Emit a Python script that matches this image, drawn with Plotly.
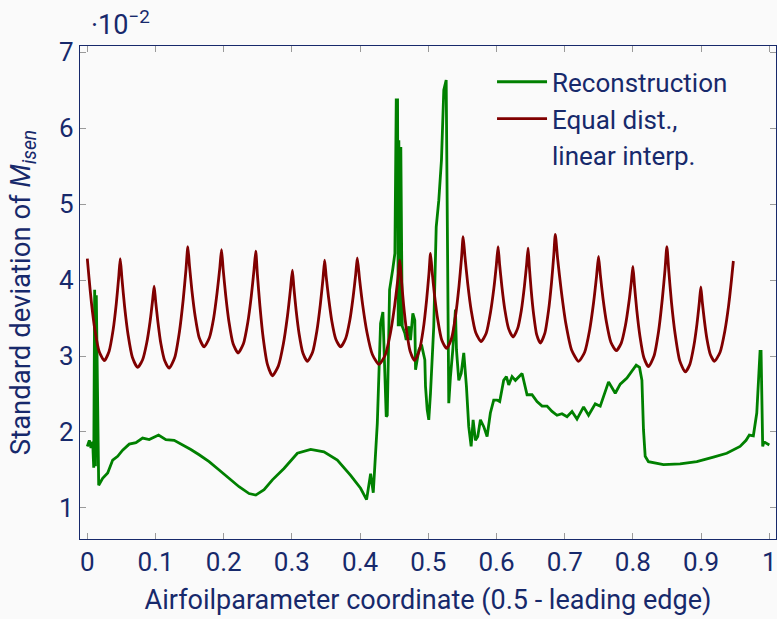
import plotly.graph_objects as go

# Reconstruction (green), values in units of 1e-2
rec_x = [0.0, 0.003, 0.0054, 0.0079, 0.0094, 0.0108, 0.012, 0.0132, 0.0167, 0.0225,
         0.0299, 0.0372, 0.0445, 0.0518, 0.0615, 0.0713, 0.0811, 0.0908, 0.1045, 0.1152,
         0.1274, 0.1397, 0.1518, 0.164, 0.1786, 0.1933, 0.2079, 0.2225, 0.2372, 0.247,
         0.2592, 0.2714, 0.2884, 0.308, 0.3275, 0.347, 0.3666, 0.3861, 0.4007, 0.4095,
         0.4154, 0.4193, 0.4252, 0.43, 0.4334, 0.4359, 0.4383, 0.4398, 0.4432, 0.448,
         0.451, 0.453, 0.4549, 0.4559, 0.4568, 0.4589, 0.4597, 0.4618, 0.4656, 0.4676,
         0.4714, 0.4739, 0.4773, 0.4802, 0.4813, 0.4861, 0.49, 0.4949, 0.4959, 0.4984,
         0.5007, 0.5032, 0.508, 0.5116, 0.5154, 0.5193, 0.5227, 0.5262, 0.5281, 0.53,
         0.5325, 0.5359, 0.5398, 0.5413, 0.5447, 0.5482, 0.552, 0.5559, 0.5593, 0.5628,
         0.5657, 0.5691, 0.5725, 0.5764, 0.5813, 0.5862, 0.591, 0.5959, 0.6009, 0.6047,
         0.6105, 0.6145, 0.6179, 0.6228, 0.6277, 0.632, 0.6375, 0.6448, 0.6521, 0.6594,
         0.6668, 0.6741, 0.6814, 0.6887, 0.696, 0.7034, 0.7107, 0.718, 0.7277, 0.735,
         0.7448, 0.7521, 0.7643, 0.7741, 0.7814, 0.7912, 0.7985, 0.8048, 0.8097, 0.8132,
         0.8155, 0.818, 0.8228, 0.8448, 0.8692, 0.8937, 0.918, 0.9376, 0.9571, 0.9659,
         0.9707, 0.9766, 0.9816, 0.9864, 0.9879, 0.9903, 0.9922, 0.9962, 1.0]
rec_y = [1.81, 1.89, 1.79, 1.87, 1.53, 3.87, 1.55, 3.80, 1.30, 1.39,
         1.46, 1.63, 1.68, 1.76, 1.84, 1.86, 1.92, 1.90, 1.96, 1.90,
         1.89, 1.83, 1.77, 1.70, 1.61, 1.50, 1.39, 1.28, 1.19, 1.17,
         1.24, 1.37, 1.52, 1.72, 1.77, 1.74, 1.63, 1.43, 1.26, 1.11,
         1.45, 1.20, 2.11, 3.43, 3.58, 2.95, 2.20, 2.22, 3.87, 4.15,
         4.35, 6.37, 6.37, 3.39, 5.84, 3.39, 5.75, 3.39, 3.30, 3.21,
         3.39, 3.21, 3.56, 3.47, 2.82, 3.08, 3.15, 2.95, 2.60, 2.29,
         2.16, 2.51, 3.39, 4.70, 5.05, 5.58, 6.50, 6.63, 4.50, 2.38,
         2.73, 3.08, 3.61, 3.08, 2.68, 2.77, 3.04, 2.60, 2.07, 1.81,
         2.16, 1.89, 1.94, 2.16, 2.07, 1.94, 2.25, 2.42, 2.42, 2.40,
         2.68, 2.73, 2.62, 2.73, 2.68, 2.72, 2.77, 2.49, 2.49, 2.40,
         2.34, 2.34, 2.27, 2.22, 2.24, 2.20, 2.27, 2.17, 2.33, 2.22,
         2.37, 2.34, 2.66, 2.51, 2.63, 2.71, 2.81, 2.88, 2.85, 2.68,
         2.03, 1.68, 1.61, 1.57, 1.58, 1.61, 1.67, 1.72, 1.81, 1.89,
         1.96, 1.95, 2.25, 3.06, 3.06, 1.81, 1.87, 1.85, 1.83]

# Equal dist., linear interp. (dark red), read along each scallop
eq_x = [0.0, 0.0025, 0.0062, 0.0112, 0.0174, 0.0249, 0.0319, 0.0378, 0.0425, 0.046,
        0.0483, 0.0509, 0.0547, 0.0598, 0.0662, 0.0738, 0.0811, 0.0871, 0.092, 0.0956,
        0.098, 0.1002, 0.1035, 0.1079, 0.1134, 0.12, 0.1282, 0.1351, 0.1406, 0.1447,
        0.1474, 0.1498, 0.1534, 0.1582, 0.1641, 0.1713, 0.179, 0.1853, 0.1904, 0.1943,
        0.1968, 0.1992, 0.2029, 0.2077, 0.2138, 0.2211, 0.2289, 0.2353, 0.2405, 0.2444,
        0.247, 0.2494, 0.2531, 0.258, 0.2641, 0.2714, 0.2802, 0.2875, 0.2934, 0.2978,
        0.3007, 0.3029, 0.3062, 0.3106, 0.3161, 0.3227, 0.3303, 0.3366, 0.3417, 0.3455,
        0.348, 0.3503, 0.3539, 0.3585, 0.3644, 0.3714, 0.3788, 0.3849, 0.3898, 0.3935,
        0.3959, 0.3991, 0.4038, 0.4101, 0.418, 0.4275, 0.4367, 0.4444, 0.4506, 0.4552,
        0.4583, 0.4605, 0.4637, 0.468, 0.4734, 0.4798, 0.4868, 0.4927, 0.4974, 0.5009,
        0.5032, 0.5056, 0.5091, 0.5138, 0.5197, 0.5267, 0.534, 0.5401, 0.545, 0.5487,
        0.5511, 0.5537, 0.5577, 0.5629, 0.5695, 0.5774, 0.5849, 0.5911, 0.5961, 0.5998,
        0.6023, 0.6045, 0.6078, 0.6122, 0.6177, 0.6243, 0.6309, 0.6364, 0.6408, 0.6441,
        0.6463, 0.6481, 0.6508, 0.6544, 0.6589, 0.6643, 0.6709, 0.6763, 0.6807, 0.684,
        0.6862, 0.6896, 0.6948, 0.7016, 0.7101, 0.7204, 0.7292, 0.7365, 0.7423, 0.7467,
        0.7496, 0.7522, 0.7561, 0.7613, 0.7677, 0.7755, 0.7829, 0.789, 0.7939, 0.7976,
        0.80, 0.8023, 0.8057, 0.8103, 0.816, 0.8228, 0.8309, 0.8377, 0.8431, 0.8471,
        0.8498, 0.8525, 0.8565, 0.8619, 0.8686, 0.8766, 0.8835, 0.8893, 0.8939, 0.8973,
        0.8996, 0.9016, 0.9046, 0.9086, 0.9135, 0.9195, 0.9278, 0.9348, 0.9404, 0.9445,
        0.9473]
eq_y = [4.28, 4.03, 3.69, 3.34, 3.06, 2.94, 3.06, 3.34, 3.69, 4.03,
        4.28, 4.01, 3.65, 3.28, 2.98, 2.85, 2.95, 3.17, 3.45, 3.72,
        3.92, 3.72, 3.45, 3.16, 2.94, 2.84, 2.98, 3.32, 3.74, 4.14,
        4.44, 4.19, 3.86, 3.52, 3.24, 3.12, 3.24, 3.50, 3.84, 4.16,
        4.40, 4.14, 3.80, 3.45, 3.16, 3.04, 3.16, 3.44, 3.79, 4.13,
        4.38, 4.07, 3.66, 3.23, 2.89, 2.74, 2.87, 3.16, 3.52, 3.87,
        4.13, 3.90, 3.60, 3.29, 3.04, 2.93, 3.05, 3.33, 3.68, 4.01,
        4.26, 4.04, 3.76, 3.46, 3.22, 3.12, 3.23, 3.47, 3.78, 4.07,
        4.29, 4.02, 3.67, 3.31, 3.02, 2.89, 3.01, 3.30, 3.66, 4.00,
        4.26, 4.01, 3.68, 3.34, 3.06, 2.94, 3.07, 3.36, 3.73, 4.08,
        4.35, 4.11, 3.80, 3.48, 3.21, 3.10, 3.23, 3.54, 3.92, 4.29,
        4.57, 4.31, 3.96, 3.60, 3.31, 3.19, 3.30, 3.57, 3.89, 4.20,
        4.44, 4.21, 3.92, 3.61, 3.36, 3.25, 3.36, 3.60, 3.91, 4.20,
        4.42, 4.18, 3.87, 3.55, 3.28, 3.17, 3.30, 3.60, 3.97, 4.33,
        4.60, 4.28, 3.87, 3.43, 3.08, 2.93, 3.05, 3.34, 3.70, 4.05,
        4.31, 4.07, 3.76, 3.44, 3.18, 3.07, 3.17, 3.40, 3.69, 3.97,
        4.18, 3.93, 3.60, 3.26, 2.98, 2.86, 3.00, 3.33, 3.75, 4.14,
        4.44, 4.13, 3.71, 3.29, 2.94, 2.79, 2.89, 3.13, 3.42, 3.70,
        3.91, 3.72, 3.48, 3.22, 3.02, 2.93, 3.05, 3.33, 3.67, 4.00,
        4.25]

x_ticks = [0, 0.1, 0.2, 0.3, 0.4, 0.5, 0.6, 0.7, 0.8, 0.9, 1]
y_ticks = [1, 2, 3, 4, 5, 6, 7]

NAVY = "#17296b"
FONT = "Roboto"

fig = go.Figure()
fig.add_trace(go.Scatter(x=rec_x, y=rec_y, mode="lines", name="Reconstruction",
                         line=dict(color="rgb(0,128,0)", width=2.8)))
fig.add_trace(go.Scatter(x=eq_x, y=eq_y, mode="lines", name="Equal dist.,",
                         line=dict(color="rgb(128,0,0)", width=2.8, shape="spline",
                                   smoothing=0.6)))
fig.add_trace(go.Scatter(x=[None], y=[None], mode="lines", name="linear interp.",
                         line=dict(color="rgba(0,0,0,0)", width=0)))

axis_common = dict(showgrid=False, zeroline=False, showline=True, linecolor=NAVY,
                   linewidth=1.4, mirror="ticks", ticks="inside", ticklen=6,
                   tickcolor="#9a9a9a", tickwidth=1,
                   tickfont=dict(family=FONT, size=26, color=NAVY))

fig.update_layout(
    width=777, height=619,
    margin=dict(l=80, r=1, t=46, b=80),
    paper_bgcolor="#fafafa", plot_bgcolor="#fafafa",
    font=dict(family=FONT, color=NAVY, size=26),
    xaxis=dict(range=[-0.0107, 1.0098], tickvals=x_ticks,
               title=dict(text="Airfoilparameter coordinate (0.5 - leading edge)",
                          font=dict(family=FONT, size=27, color=NAVY), standoff=13),
               **axis_common),
    yaxis=dict(range=[0.592, 7.079], tickvals=y_ticks,
               title=dict(text="Standard deviation of <i>M</i><sub><i>isen</i></sub>",
                          font=dict(family=FONT, size=27.5, color=NAVY), standoff=20),
               **axis_common),
    legend=dict(x=0.592, y=0.975, xanchor="left", yanchor="top",
                bgcolor="rgba(0,0,0,0)", borderwidth=0,
                font=dict(family=FONT, size=26, color=NAVY),
                itemwidth=50, tracegroupgap=0),
    showlegend=True,
    annotations=[dict(text="·10<sup>−2</sup>", x=0, y=1, xref="paper", yref="paper",
                      xanchor="left", yanchor="bottom", yshift=3, xshift=9,
                      showarrow=False, font=dict(family=FONT, size=27, color=NAVY))],
)

fig.write_html("out.html")
